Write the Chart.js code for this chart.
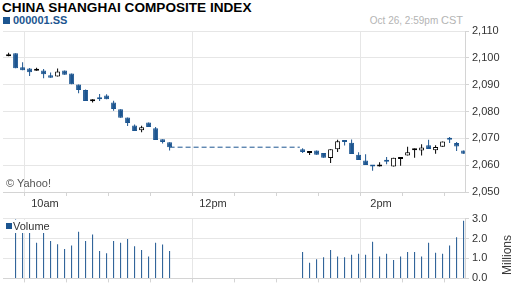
<!DOCTYPE html>
<html>
<head>
<meta charset="utf-8">
<script src="https://cdn.jsdelivr.net/npm/chart.js@4.4.1/dist/chart.umd.min.js"></script>
<style>
  body { margin: 0; background: #fff; font-family: "Liberation Sans", Arial, sans-serif; }
  #wrap { position: relative; width: 512px; height: 288px; overflow: hidden; background: #fff; }
  #wrap canvas { position: absolute; left: 0; }
  .txt { position: absolute; white-space: nowrap; line-height: 1; }
  #title { left: 2px; top: 1px; font-size: 13.6px; font-weight: bold; color: #000; }
  #sym { left: 13px; top: 15px; font-size: 11px; font-weight: bold; color: #1c5590; }
  #symbox { position: absolute; left: 3px; top: 17px; width: 7px; height: 7px; background: #1c5590; }
  #stamp { right: 49px; top: 15px; font-size: 10px; color: #b4b4b4; }
  #stamp span { font-size: 11px; }
  #copy { left: 6px; top: 178px; font-size: 11px; color: #555; }
  #legend { left: 4px; top: 220px; width: 49px; height: 13px; background: #fff; }
  #legend i { position: absolute; left: 2px; top: 3px; width: 6px; height: 6px; background: #1c5590; }
  #legend b { position: absolute; left: 9px; top: 1px; font-weight: normal; font-size: 11px; color: #333; }
  #units { left: 507px; top: 255px; font-size: 12px; color: #333; transform: translate(-50%, -50%) rotate(-90deg); }
</style>
</head>
<body>
<div id="wrap">
  <div class="txt" id="title">CHINA SHANGHAI COMPOSITE INDEX</div>
  <div id="symbox"></div>
  <div class="txt" id="sym">000001.SS</div>
  <div class="txt" id="stamp">Oct 26, 2:59pm <span>CST</span></div>
  <canvas id="price" width="512" height="212" style="top:0"></canvas>
  <canvas id="vol" width="512" height="79" style="top:209px"></canvas>
  <div class="txt" id="copy">© Yahoo!</div>
  <div class="txt" id="legend"><i></i><b>Volume</b></div>
  <div class="txt" id="units">Millions</div>
</div>
<script>
// 5-minute candles, morning and afternoon session
const times = ['9:34', '9:39', '9:44', '9:49', '9:54', '9:59', '10:04', '10:09', '10:14', '10:19', '10:24', '10:29',
  '10:34', '10:39', '10:44', '10:49', '10:54', '10:59', '11:04', '11:09', '11:14', '11:19', '11:24', '11:29',
  '13:04', '13:09', '13:14', '13:19', '13:24', '13:29', '13:34', '13:39', '13:44', '13:49', '13:54', '13:59',
  '14:04', '14:09', '14:14', '14:19', '14:24', '14:29', '14:34', '14:39', '14:44', '14:49', '14:54', '14:59'];
const open = [2100.6, 2101.7, 2096.5, 2096.0, 2095.2, 2095.3, 2093.5, 2093.0, 2095.3, 2094.2, 2090.1, 2088.0,
  2083.8, 2085.0, 2086.0, 2083.4, 2080.8, 2077.8, 2074.8, 2073.0, 2075.9, 2073.8, 2069.7, 2068.5,
  2065.9, 2064.5, 2065.5, 2064.5, 2062.7, 2065.9, 2069.0, 2068.4, 2063.9, 2061.7, 2059.7, 2059.5,
  2061.8, 2059.5, 2062.3, 2063.6, 2065.6, 2065.5, 2067.4, 2065.6, 2066.9, 2070.0, 2068.3, 2065.5];
const high = [2101.9, 2101.7, 2098.4, 2096.2, 2096.3, 2095.8, 2094.5, 2096.0, 2095.3, 2094.2, 2090.1, 2088.2,
  2084.6, 2086.5, 2086.4, 2084.0, 2080.8, 2077.8, 2075.2, 2074.7, 2075.9, 2074.2, 2069.7, 2068.5,
  2066.3, 2065.1, 2065.5, 2064.5, 2065.9, 2069.5, 2069.1, 2069.6, 2064.8, 2064.1, 2059.7, 2061.1,
  2063.0, 2062.8, 2062.8, 2066.9, 2066.2, 2067.8, 2069.5, 2067.4, 2068.8, 2070.5, 2068.6, 2065.5];
const low = [2100.6, 2096.1, 2095.4, 2093.2, 2095.2, 2092.4, 2092.6, 2093.0, 2093.7, 2090.2, 2086.8, 2083.9,
  2083.4, 2083.9, 2084.6, 2080.3, 2077.7, 2074.6, 2072.7, 2072.3, 2074.2, 2069.4, 2068.1, 2065.5,
  2064.5, 2063.8, 2063.9, 2062.8, 2060.8, 2064.9, 2067.3, 2064.2, 2061.9, 2060.1, 2057.9, 2059.5,
  2060.3, 2059.5, 2059.8, 2063.6, 2062.8, 2063.6, 2066.0, 2064.3, 2066.9, 2068.3, 2065.3, 2064.3];
const close = [2101.2, 2096.1, 2095.4, 2094.6, 2095.6, 2093.9, 2092.6, 2094.9, 2093.7, 2090.2, 2088.0, 2083.9,
  2084.1, 2084.6, 2084.6, 2080.9, 2077.7, 2075.7, 2072.7, 2074.1, 2074.2, 2069.4, 2068.6, 2066.7,
  2064.9, 2065.1, 2063.9, 2062.8, 2065.9, 2068.9, 2068.6, 2064.2, 2061.9, 2060.1, 2059.5, 2060.2,
  2061.3, 2062.8, 2062.8, 2064.8, 2066.2, 2066.6, 2066.0, 2066.8, 2068.8, 2069.5, 2067.0, 2064.3];
// millions of shares, first bar has none
const volume = [null, 2.96, 2.35, 2.3, 1.79, 2.4, 1.88, 1.71, 1.47, 1.65, 2.34, 1.88,
  2.2, 1.38, 1.26, 1.88, 1.79, 1.98, 1.61, 1.42, 1.10, 1.79, 1.70, 1.38,
  1.33, 0.78, 0.96, 1.06, 1.42, 1.10, 1.06, 1.19, 1.24, 1.19, 1.84, 1.10,
  1.24, 0.92, 1.10, 1.33, 1.33, 1.10, 1.79, 1.29, 1.24, 1.65, 2.07, 2.89];
const lunchBreak = ['11:29', '13:02'];
const tickTimes = ['10:00', '12:00', '14:00'];
const tickLabels = ['10am', '12pm', '2pm'];

const BLUE = '#1c5590';
const GRID = '#e6e6e6';
const EDGE = '#d4d4d4';
const TEXT = '#333';
Chart.defaults.font.family = '"Liberation Sans", Arial, sans-serif';
Chart.defaults.font.size = 11;

function toMin(t) {
  const [h, m] = t.split(':').map(Number);
  return h * 60 + m - 570;
}

const xs = times.map(toMin);
const up = close.map((c, i) => c >= open[i]);
const labelAt = {};
tickTimes.forEach((t, i) => { labelAt[toMin(t)] = tickLabels[i]; });

function timeAxis(showLabels) {
  return {
    type: 'linear', min: 0, max: 330, offset: false,
    afterFit: s => { s.height = showLabels ? 20 : 7; },
    grid: {
      color: c => (c.tick && (c.tick.value === 0 || labelAt[c.tick.value])) ? GRID : 'rgba(0,0,0,0)',
      tickColor: EDGE, tickLength: 4
    },
    border: { color: EDGE },
    ticks: {
      stepSize: 30, autoSkip: false, maxRotation: 0, padding: 1, color: TEXT,
      callback: v => showLabels ? (labelAt[v] || '') : ''
    }
  };
}

function rightAxis(min, max, step, fmt) {
  return {
    position: 'right', min, max,
    afterFit: s => { s.width = 47; },
    grid: { color: GRID, tickColor: EDGE, tickLength: 4 },
    border: { color: EDGE },
    ticks: { stepSize: step, padding: 3, color: TEXT, callback: fmt }
  };
}

const common = {
  responsive: false, animation: false, events: [],
  plugins: { legend: { display: false }, tooltip: { enabled: false } }
};

new Chart(document.getElementById('price'), {
  type: 'bar',
  data: {
    datasets: [
      {
        type: 'line', order: 0,
        data: lunchBreak.map(t => ({ x: toMin(t), y: close[times.indexOf('11:29')] })),
        borderColor: BLUE, borderWidth: 1, borderDash: [5, 3], pointRadius: 0
      },
      {
        order: 1, grouped: false, barThickness: 5, minBarLength: 2, inflateAmount: 0,
        data: xs.map((x, i) => ({ x, y: [open[i], close[i]] })),
        backgroundColor: up.map(u => u ? '#fff' : BLUE),
        borderColor: up.map(u => u ? '#000' : BLUE),
        borderWidth: 1, borderSkipped: false
      },
      {
        order: 2, grouped: false, barThickness: 1, inflateAmount: 0,
        data: xs.map((x, i) => ({ x, y: [low[i], high[i]] })),
        backgroundColor: up.map(u => u ? '#000' : BLUE)
      }
    ]
  },
  options: {
    ...common,
    layout: { padding: { top: 31, left: 3, right: 0, bottom: 0 } },
    scales: {
      x: timeAxis(true),
      y: rightAxis(2050, 2110, 10, v => v.toLocaleString('en-US'))
    }
  }
});

new Chart(document.getElementById('vol'), {
  type: 'bar',
  data: {
    datasets: [{
      grouped: false, barThickness: 1, inflateAmount: 0,
      data: xs.map((x, i) => ({ x, y: volume[i] })),
      backgroundColor: BLUE
    }]
  },
  options: {
    ...common,
    layout: { padding: { top: 0, left: 3, right: 0, bottom: 0 } },
    scales: {
      x: timeAxis(false),
      y: rightAxis(0, 3, 1, v => v.toFixed(1))
    }
  }
});
</script>
</body>
</html>
